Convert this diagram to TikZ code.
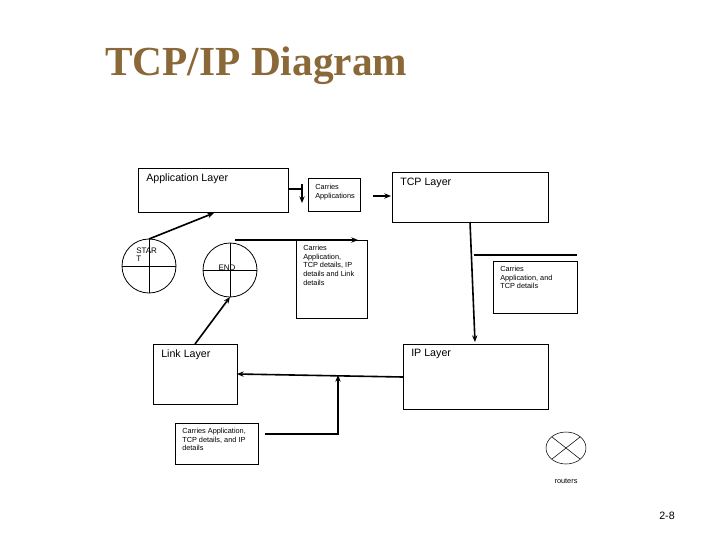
\documentclass[tikz,border=0pt]{standalone}
\usepackage{fontspec}
\setmainfont{Liberation Sans}
\newfontfamily\ser{Liberation Serif}
\usetikzlibrary{arrows.meta}
\definecolor{ttl}{RGB}{138,104,56}
\begin{document}
\begin{tikzpicture}[x=0.75pt,y=-0.75pt,
 bx/.style={draw,thick,line width=0.6pt},
 lay/.style={font=\fontsize{8}{9}\selectfont,anchor=north west,inner sep=0pt},
 sm/.style={font=\fontsize{5.5}{6.5}\selectfont,anchor=north west,inner sep=0pt,align=left},
 con/.style={line width=1.2pt},
 arr/.style={con,-{Stealth[length=5pt,width=4pt]}}]
\useasboundingbox (0,0) rectangle (720,540);
\node[font=\ser\bfseries\fontsize{31}{34}\selectfont,text=ttl,anchor=west,inner sep=0pt] (title) at (105,66) {TCP/IP Diagram};
% boxes
\draw[bx] (138,168) rectangle (288,212); \node[lay] (app) at (146,173) {Application Layer};
\draw[bx] (308,178) rectangle (360,211); \node[sm] (ca) at (315,184) {Carries\\Applications};
\draw[bx] (392,172) rectangle (548,222); \node[lay] (tcp) at (400,178) {TCP Layer};
\draw[bx] (296,240) rectangle (367,318); \node[sm] (cm) at (303,245) {Carries\\Application,\\TCP details, IP\\details and Link\\details};
\draw[bx] (493,261) rectangle (577,313); \node[sm] (cr) at (500,266) {Carries\\Application, and\\TCP details};
\draw[bx] (153,344) rectangle (237,404); \node[lay] (link) at (161,349) {Link Layer};
\draw[bx] (403,344) rectangle (548,409); \node[lay] (ip) at (411,349) {IP Layer};
\draw[bx] (175,423) rectangle (258,464); \node[sm] (cb) at (182,428) {Carries Application,\\TCP details, and IP\\details};
% circles
\draw[bx] (149,266) circle (27); \draw (122,266)--(176,266) (149,239)--(149,293);
\node[font=\fontsize{6}{6}\selectfont,align=left,inner sep=0pt,anchor=north west] (st) at (136,248) {STAR\\T};
\draw[bx] (230,270) circle (27); \draw (203,270)--(257,270) (230,243)--(230,297);
\node[font=\fontsize{6}{6}\selectfont,inner sep=0pt] (en) at (227,268) {END};
\draw (566,448) ellipse (20 and 16);
\draw (552,437)--(580,459) (580,437)--(552,459);
\node[font=\fontsize{5.5}{6}\selectfont] (rt) at (566,481) {routers};
\node[font=\fontsize{8}{9}\selectfont] (pg) at (667,516) {2-8};
% connectors
\draw[con] (288,189)--(302,189);
\draw[arr] (302,184)--(302,203);
\draw[arr] (373,196)--(391,196);
\draw[arr] (235,240)--(358,240);
\draw[arr] (470,222)--(475,342);
\draw[con] (474,255)--(577,255);
\draw[arr] (149,239)--(214,213);
\draw[arr] (195,344)--(230,297);
\draw[arr] (403,377)--(237,374);
\draw[arr] (265,434)--(338,434)--(338,375);
\end{tikzpicture}
\end{document}
